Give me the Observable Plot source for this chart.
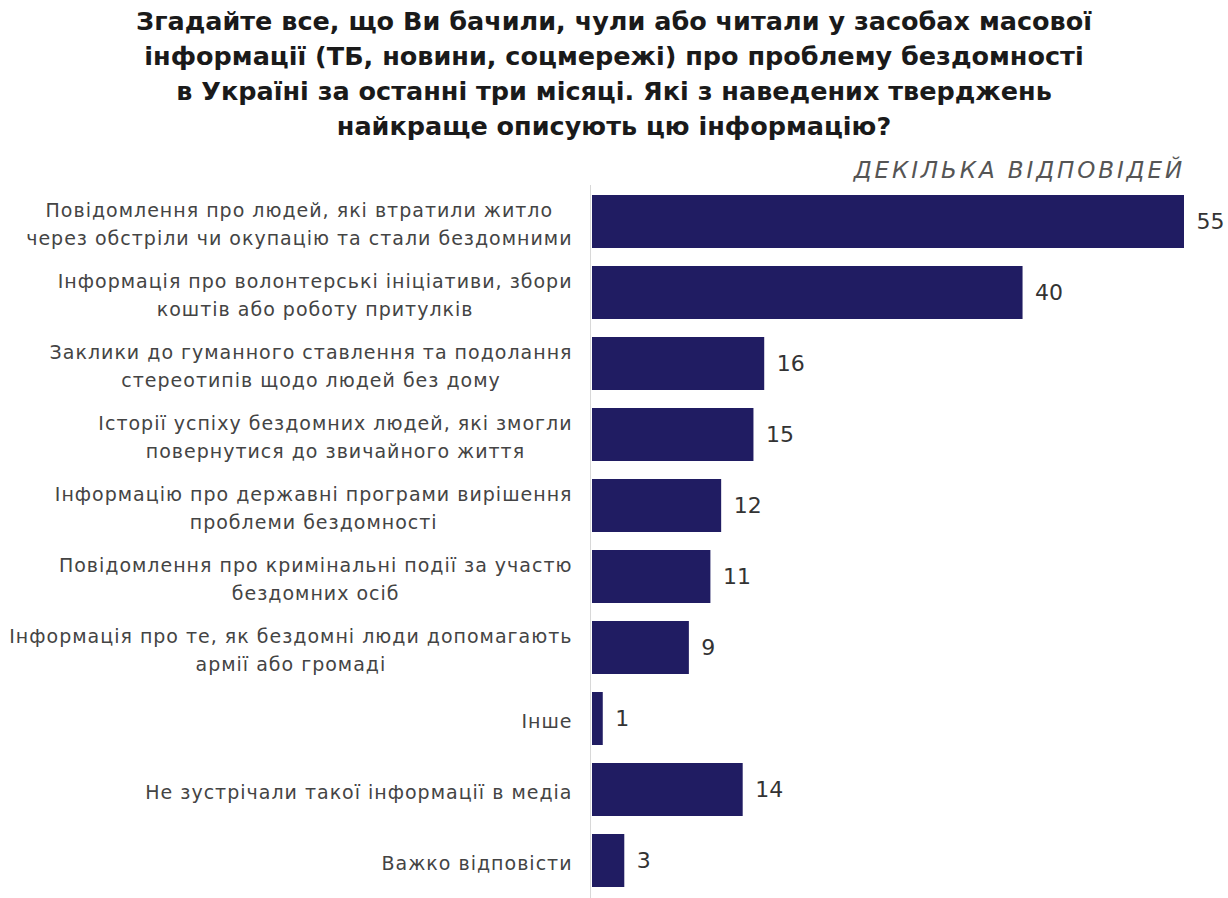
<!DOCTYPE html>
<html><head><meta charset="utf-8">
<script src="https://cdn.jsdelivr.net/npm/d3@7"></script>
<script src="https://cdn.jsdelivr.net/npm/@observablehq/plot@0.6"></script>
<style>
body{margin:0;background:#fff;font-family:"DejaVu Sans",sans-serif;width:1228px;height:898px;overflow:hidden}
#title{margin:4px 0 0 0;text-align:center;font-weight:bold;font-size:25.5px;line-height:35px;color:#1a1a1a}
#sub{margin-top:11px;height:30px;line-height:30px;text-align:right;padding-right:43px;font-style:italic;font-size:23px;color:#555;letter-spacing:2.9px}
</style></head>
<body>
<div id="title">Згадайте все, що Ви бачили, чули або читали у засобах масової<br>інформації (ТБ, новини, соцмережі) про проблему бездомності<br>в Україні за останні три місяці. Які з наведених тверджень<br>найкраще описують цю інформацію?</div>
<div id="sub">ДЕКІЛЬКА ВІДПОВІДЕЙ</div>
<div id="chart"></div>
<script>
const categories = [
  "Повідомлення про людей, які втратили житло\nчерез обстріли чи окупацію та стали бездомними",
  "Інформація про волонтерські ініціативи, збори\nкоштів або роботу притулків",
  "Заклики до гуманного ставлення та подолання\nстереотипів щодо людей без дому",
  "Історії успіху бездомних людей, які змогли\nповернутися до звичайного життя",
  "Інформацію про державні програми вирішення\nпроблеми бездомності",
  "Повідомлення про кримінальні події за участю\nбездомних осіб",
  "Інформація про те, як бездомні люди допомагають\nармії або громаді",
  "Інше",
  "Не зустрічали такої інформації в медіа",
  "Важко відповісти"
];
const values = [55, 40, 16, 15, 12, 11, 9, 1, 14, 3];
const data = categories.map((c, i) => ({category: c, value: values[i]}));

const chart = Plot.plot({
  width: 1228,
  height: 713,
  marginLeft: 592,
  marginRight: 44,
  marginTop: 0,
  marginBottom: 0,
  style: {fontFamily: "DejaVu Sans, sans-serif", background: "#fff"},
  x: {domain: [0, 55], axis: null},
  y: {domain: categories, paddingInner: 0.25, paddingOuter: 0.1, label: null},
  marks: [
    Plot.ruleX([0], {stroke: "#d8d8d8", strokeWidth: 1, dx: -2}),
    Plot.barX(data, {x: "value", y: "category", fill: "#201c62"}),
    Plot.text(data, {x: "value", y: "category", text: d => String(d.value), textAnchor: "start", dx: 12, fontSize: 22, fill: "#333"}),
    Plot.axisY({tickSize: 0, tickPadding: 20, fontSize: 19, lineHeight: 1.47, fill: "#444", label: null, textAnchor: "end"})
  ]
});
document.getElementById("chart").appendChild(chart);

// centre the lines of each multi-line label inside its right-aligned block
chart.querySelectorAll('g[aria-label="y-axis tick label"] text').forEach(t => {
  t.style.letterSpacing = "1px";
  const spans = t.querySelectorAll("tspan");
  let w = 0;
  if (spans.length) spans.forEach(s => { w = Math.max(w, s.getComputedTextLength()); });
  else w = t.getComputedTextLength();
  t.setAttribute("text-anchor", "middle");
  if (spans.length) spans.forEach(s => s.setAttribute("x", -w / 2));
  else t.setAttribute("x", -w / 2);
});
</script>
</body></html>
